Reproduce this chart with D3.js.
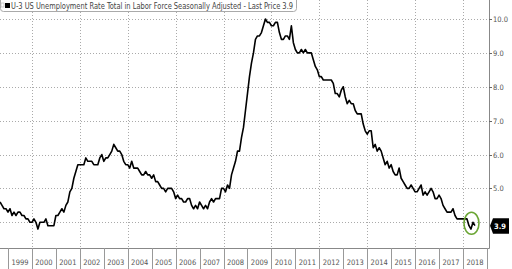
<!DOCTYPE html>
<html>
<head>
<meta charset="utf-8">
<script src="https://cdn.jsdelivr.net/npm/d3@7"></script>
<style>
	body { margin: 0; background: #fff; }
	svg { display: block; }
</style>
</head>
<body>
<div id="vis"></div>
<script>
// monthly U-3 rate, series starts Sep 1998
var startYear = 1998;
var startMonth = 8;
var rates1998 = [4.6, 4.5, 4.4, 4.4];
var rates1999 = [4.3, 4.4, 4.2, 4.3, 4.2, 4.3, 4.3, 4.2, 4.2, 4.1, 4.1, 4.0];
var rates2000 = [4.0, 4.1, 4.0, 3.8, 4.0, 4.0, 4.0, 4.1, 3.9, 3.9, 3.9, 3.9];
var rates2001 = [4.2, 4.2, 4.3, 4.4, 4.3, 4.5, 4.6, 4.9, 5.0, 5.3, 5.5, 5.7];
var rates2002 = [5.7, 5.7, 5.7, 5.9, 5.8, 5.8, 5.8, 5.7, 5.7, 5.7, 5.9, 6.0];
var rates2003 = [5.8, 5.9, 5.9, 6.0, 6.1, 6.3, 6.2, 6.1, 6.1, 6.0, 5.8, 5.7];
var rates2004 = [5.7, 5.6, 5.8, 5.6, 5.6, 5.6, 5.5, 5.4, 5.4, 5.5, 5.4, 5.4];
var rates2005 = [5.3, 5.4, 5.2, 5.2, 5.1, 5.0, 5.0, 4.9, 5.0, 5.0, 5.0, 4.9];
var rates2006 = [4.7, 4.8, 4.7, 4.7, 4.6, 4.6, 4.7, 4.7, 4.5, 4.4, 4.5, 4.4];
var rates2007 = [4.6, 4.5, 4.4, 4.5, 4.4, 4.6, 4.7, 4.6, 4.7, 4.7, 4.7, 5.0];
var rates2008 = [5.0, 4.9, 5.1, 5.0, 5.4, 5.6, 5.8, 6.1, 6.1, 6.5, 6.8, 7.3];
var rates2009 = [7.8, 8.3, 8.7, 9.0, 9.4, 9.5, 9.5, 9.6, 9.8, 10.0, 9.9, 9.9];
var rates2010 = [9.8, 9.8, 9.9, 9.9, 9.6, 9.4, 9.4, 9.5, 9.5, 9.4, 9.8, 9.3];
var rates2011 = [9.1, 9.0, 9.0, 9.1, 9.0, 9.1, 9.0, 9.0, 9.0, 8.8, 8.6, 8.5];
var rates2012 = [8.3, 8.3, 8.2, 8.2, 8.2, 8.2, 8.2, 8.1, 7.8, 7.8, 7.7, 7.9];
var rates2013 = [8.0, 7.7, 7.5, 7.6, 7.5, 7.5, 7.3, 7.2, 7.2, 7.2, 6.9, 6.7];
var rates2014 = [6.6, 6.7, 6.7, 6.2, 6.3, 6.1, 6.2, 6.1, 5.9, 5.7, 5.8, 5.6];
var rates2015 = [5.7, 5.5, 5.4, 5.4, 5.6, 5.3, 5.2, 5.1, 5.0, 5.0, 5.1, 5.0];
var rates2016 = [4.9, 4.9, 5.0, 5.1, 4.8, 4.9, 4.8, 4.9, 5.0, 4.9, 4.7, 4.7];
var rates2017 = [4.8, 4.7, 4.5, 4.4, 4.3, 4.3, 4.3, 4.4, 4.2, 4.1, 4.1, 4.1];
var rates2018 = [4.1, 4.1, 4.1, 3.9, 3.8, 4.0, 3.9];

var years = d3.range(1999, 2019);
var yTicks = [5, 6, 7, 8, 9, 10];
var gridValues = [4, 5, 6, 7, 8, 9, 10];
var gridYears = [2000, 2002, 2004, 2006, 2008, 2010, 2012, 2014, 2016, 2018];
var title = 'U-3 US Unemployment Rate Total in Labor Force Seasonally Adjusted - Last Price 3.9';
var lastPrice = 3.9;

buildChart();

// Flattens the yearly arrays into dated points
function getData() {
	var all = [].concat(rates1998, rates1999, rates2000, rates2001, rates2002,
		rates2003, rates2004, rates2005, rates2006, rates2007, rates2008,
		rates2009, rates2010, rates2011, rates2012, rates2013, rates2014,
		rates2015, rates2016, rates2017, rates2018);
	return all.map(function(v, i) {
		return {t: startYear + (startMonth + i) / 12, v: v};
	});
}

function buildChart() {
	var width = 512, height = 269;
	var plot = {left: 0, right: 489, top: 0, bottom: 248};
	var font = '"DejaVu Sans Condensed", "Liberation Sans Narrow", sans-serif';

	var svg = d3.select('#vis')
		.append('svg')
		.attr('width', width)
		.attr('height', height);

	var data = getData();

	var x = d3.scaleLinear().domain([1999, 2018]).range([8, 463]);
	var y = d3.scaleLinear().domain([4, 10]).range([222.3, 19]);

	// dotted grid
	svg.append('g')
		.selectAll('line')
		.data(gridValues)
		.enter()
		.append('line')
		.attr('x1', plot.left)
		.attr('x2', plot.right)
		.attr('y1', function(d) { return Math.round(y(d)) + 0.5; })
		.attr('y2', function(d) { return Math.round(y(d)) + 0.5; })
		.style('stroke', '#aaa')
		.style('stroke-dasharray', '1,2');

	svg.append('g')
		.selectAll('line')
		.data(gridYears)
		.enter()
		.append('line')
		.attr('x1', function(d) { return Math.round(x(d)) + 0.5; })
		.attr('x2', function(d) { return Math.round(x(d)) + 0.5; })
		.attr('y1', plot.top)
		.attr('y2', plot.bottom)
		.style('stroke', '#aaa')
		.style('stroke-dasharray', '1,2');

	// axes frame
	svg.append('line')
		.attr('x1', plot.left).attr('x2', plot.right + 0.5)
		.attr('y1', plot.bottom + 0.5).attr('y2', plot.bottom + 0.5)
		.style('stroke', '#888');
	svg.append('line')
		.attr('x1', plot.right + 0.5).attr('x2', plot.right + 0.5)
		.attr('y1', 0).attr('y2', plot.bottom + 0.5)
		.style('stroke', '#888');

	// year separators + labels
	svg.append('g')
		.selectAll('line')
		.data(years.concat([2019]))
		.enter()
		.append('line')
		.attr('x1', function(d) { return Math.round(x(d)) + 0.5; })
		.attr('x2', function(d) { return Math.round(x(d)) + 0.5; })
		.attr('y1', plot.bottom)
		.attr('y2', height)
		.style('stroke', '#999');

	svg.append('g')
		.selectAll('text')
		.data(years)
		.enter()
		.append('text')
		.attr('x', function(d) { return x(d + 0.5); })
		.attr('y', 265)
		.attr('text-anchor', 'middle')
		.style('font-family', font)
		.style('font-size', '7.5px')
		.style('fill', '#555')
		.text(function(d) { return d; });

	// right axis ticks + labels
	var ticks = svg.append('g')
		.selectAll('g')
		.data(yTicks)
		.enter()
		.append('g')
		.attr('transform', function(d) { return 'translate(0,' + Math.round(y(d)) + ')'; });
	ticks.append('line')
		.attr('x1', plot.right).attr('x2', plot.right + 3)
		.attr('y1', 0.5).attr('y2', 0.5)
		.style('stroke', '#666');
	ticks.append('text')
		.attr('x', 493)
		.attr('y', 3)
		.style('font-family', font)
		.style('font-size', '7.5px')
		.style('fill', '#555')
		.text(function(d) { return d.toFixed(1); });

	// the series
	var line = d3.line()
		.x(function(d) { return x(d.t); })
		.y(function(d) { return y(d.v); });

	svg.append('path')
		.datum(data)
		.attr('d', line)
		.style('fill', 'none')
		.style('stroke', '#000')
		.style('stroke-width', 1.6)
		.style('stroke-linejoin', 'round');

	// green ring round the latest prints
	var last = data[data.length - 1];
	svg.append('ellipse')
		.attr('cx', x(last.t) - 3.5)
		.attr('cy', y(4.0) + 1)
		.attr('rx', 7.5)
		.attr('ry', 11)
		.style('fill', 'none')
		.style('stroke', '#6aa533')
		.style('stroke-width', 1.6);

	// last price tag
	var ly = y(lastPrice);
	svg.append('path')
		.attr('d', 'M' + (plot.right + 1) + ',' + ly +
			'L' + (plot.right + 4) + ',' + (ly - 7.5) +
			'L509,' + (ly - 7.5) + 'L509,' + (ly + 8) +
			'L' + (plot.right + 4) + ',' + (ly + 8) + 'Z')
		.style('fill', '#000');
	svg.append('text')
		.attr('x', 494)
		.attr('y', ly + 3)
		.style('font-family', font)
		.style('font-size', '7.5px')
		.style('font-weight', 'bold')
		.style('fill', '#fff')
		.text(lastPrice.toFixed(1));

	// legend box
	svg.append('rect')
		.attr('x', 0.5).attr('y', -4)
		.attr('width', 296).attr('height', 15.5)
		.attr('rx', 3)
		.style('fill', '#fff')
		.style('stroke', '#aaa');
	svg.append('rect')
		.attr('x', 1).attr('y', 3).attr('width', 3).attr('height', 4)
		.style('fill', 'none').style('stroke', '#bbb').style('stroke-width', 0.7);
	svg.append('rect')
		.attr('x', 5).attr('y', 3).attr('width', 5).attr('height', 5)
		.style('fill', '#000');
	svg.append('text')
		.attr('x', 11)
		.attr('y', 8.5)
		.attr('textLength', 282)
		.attr('lengthAdjust', 'spacingAndGlyphs')
		.style('font-family', font)
		.style('font-size', '8px')
		.style('fill', '#444')
		.text(title);
}
</script>
</body>
</html>
